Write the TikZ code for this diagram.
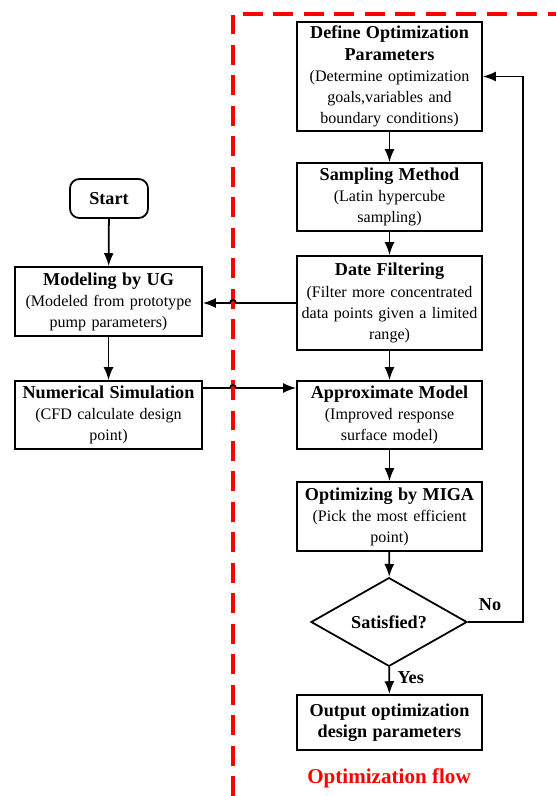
\documentclass[tikz,border=0pt]{standalone}
\usepackage{fontspec}
\setmainfont{Liberation Serif}
\usetikzlibrary{positioning,calc}
\usetikzlibrary{shapes.geometric}
\usetikzlibrary{arrows.meta}
\newcommand{\hd}[1]{{\bfseries\fontsize{15.5}{18}\selectfont #1}}
\tikzset{
  box/.style={draw,line width=1.5pt,align=center,text width=5.5cm,minimum width=5.55cm,inner sep=0.5pt,font=\fontsize{13.7}{18}\selectfont},
  startbox/.style={draw,line width=1.5pt,rounded corners=8pt,minimum width=2.34cm,minimum height=1.17cm,font=\bfseries\fontsize{15.5}{18}\selectfont},
  decision/.style={draw,diamond,line width=1.5pt,minimum width=4.68cm,minimum height=2.4cm,inner sep=0pt,font=\bfseries\fontsize{15.5}{18}\selectfont},
  lbl/.style={font=\bfseries\fontsize{15.5}{18}\selectfont},
  arr/.style={line width=1.5pt,-{Latex[length=11pt,width=8.5pt]}},
  frame/.style={red,line width=2.6pt,dash pattern=on 17pt off 9pt},
}
\begin{document}
\begin{tikzpicture}[x=0.03cm,y=-0.03cm]
\useasboundingbox (0,0) rectangle (556,796);
% dashed frame
\draw[frame] (233,796) -- (233,14) -- (556,14);
\coordinate (fl) at (233,400);
\node[red,font=\bfseries\fontsize{18}{20}\selectfont] (flow) at (389,778) {Optimization flow};
% optimization column
\node[box,minimum height=3.27cm] (def) at (389.5,76.5) {\hd{Define Optimization\\Parameters}\\(Determine optimization\\goals,variables and\\boundary conditions)};
\node[box,minimum height=2.04cm] (samp) at (389.5,197) {\hd{Sampling Method}\\(Latin hypercube\\sampling)};
\node[box,minimum height=2.82cm] (filt) at (389.5,303) {\hd{Date Filtering}\\(Filter more concentrated\\data points given a limited\\range)};
\node[box,minimum height=2.04cm] (approx) at (389.5,415) {\hd{Approximate Model}\\(Improved response\\surface model)};
\node[box,minimum height=2.07cm] (miga) at (389.5,516.5) {\hd{Optimizing by MIGA}\\(Pick the most efficient\\point)};
\node[decision] (sat) at (389,622) {Satisfied?};
\node[box,minimum height=1.65cm] (out) at (389.5,722.5) {\hd{Output optimization\\design parameters}};
% left column
\node[startbox] (start) at (109,198.5) {Start};
\node[box,minimum width=5.61cm,minimum height=2.07cm] (model) at (108.5,301.5) {\hd{Modeling by UG}\\(Modeled from prototype\\pump parameters)};
\node[box,minimum width=5.61cm,minimum height=2.04cm] (num) at (108.5,415) {\hd{Numerical Simulation}\\(CFD calculate design\\point)};
\coordinate (loop) at (523,350);
\draw[arr] (start) -- (model);
\draw[arr] (model) -- (num);
\draw[arr] (def) -- (samp);
\draw[arr] (samp) -- (filt);
\draw[arr] (filt) -- (approx);
\draw[arr] (approx) -- (miga);
\draw[arr] (miga) -- (sat);
\draw[arr] (sat) -- node[right,lbl,pos=0.4,xshift=3pt] {Yes} (out);
\draw[arr] (sat.east) -| (loop) |- (def.east);
\node[lbl] (no) at (490,605) {No};
% crossings over the frame
\draw[arr] (filt.west) -- ($(fl |- filt.west)+(3,0)$) arc[start angle=0,end angle=180,radius=0.09cm] -- (filt.west -| model.east);
\draw[arr] ($(num.east)+(0,-27)$) -- ($(fl |- num.east)+(-3,-27)$) arc[start angle=180,end angle=0,radius=0.09cm] -- ($(approx.west)+(0,-27)$);
\end{tikzpicture}
\end{document}
